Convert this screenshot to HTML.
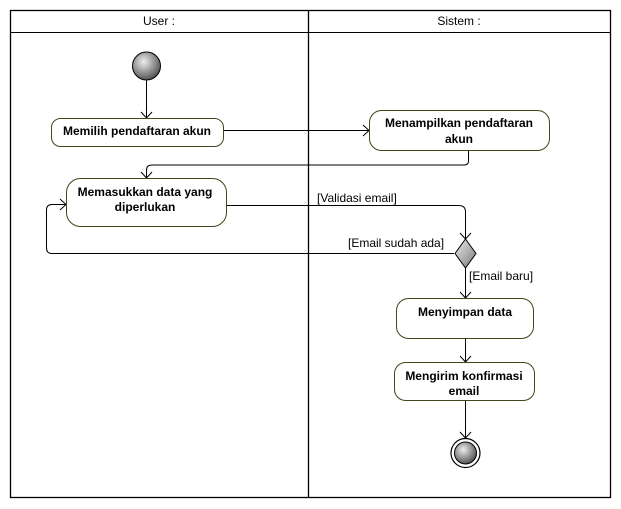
<!DOCTYPE html>
<html><head><meta charset="utf-8"><style>
html,body{margin:0;padding:0;background:#fff;width:621px;height:509px;overflow:hidden}
svg{display:block}
text{font-family:"Liberation Sans",Arial,sans-serif;font-size:12px;fill:#000}
.b{font-weight:bold}
</style></head><body>
<svg width="621" height="509" viewBox="0 0 621 509" xmlns="http://www.w3.org/2000/svg">
<defs>
<radialGradient id="g" cx="40%" cy="35%" r="65%"><stop offset="0" stop-color="#eee"/><stop offset="1" stop-color="#555"/></radialGradient>
<linearGradient id="d" x1="0" y1="0" x2="1" y2="1"><stop offset="0" stop-color="#eee"/><stop offset="1" stop-color="#777"/></linearGradient>
</defs>
<rect x="10.5" y="10.5" width="600" height="487" fill="none" stroke="#000" stroke-width="1.3"/>
<line x1="10.5" y1="32.5" x2="610.5" y2="32.5" stroke="#000"/>
<line x1="308.5" y1="10.5" x2="308.5" y2="497.5" stroke="#000" stroke-width="1.3"/>
<text x="159" y="25" text-anchor="middle">User :</text>
<text x="459" y="25" text-anchor="middle">Sistem :</text>

<g fill="none" stroke="#000" stroke-width="1">
<line x1="146.5" y1="80" x2="146.5" y2="118"/>
<polyline points="141,112 146.5,118 152,112"/>
<line x1="223" y1="130.5" x2="369" y2="130.5"/>
<polyline points="363,125 369,130.5 363,136"/>
<path d="M468.5 150 V161 Q468.5 165 464 165 H152 Q146.5 165 146.5 170 V178"/>
<polyline points="141,172 146.5,178 152,172"/>
<path d="M226 205.5 H459 Q465.5 205.5 465.5 212 V239"/>
<polyline points="460,233 465.5,239 471,233"/>
<path d="M454 253.5 H52 Q46.5 253.5 46.5 248 V210 Q46.5 204.5 52 204.5 H66"/>
<polyline points="60,199 66,204.5 60,210"/>
<line x1="465.5" y1="267" x2="465.5" y2="298"/>
<polyline points="460,292 465.5,298 471,292"/>
<line x1="465.5" y1="338" x2="465.5" y2="362"/>
<polyline points="460,356 465.5,362 471,356"/>
<line x1="465.5" y1="400" x2="465.5" y2="438"/>
<polyline points="460,432 465.5,438 471,432"/>
</g>

<circle cx="146.5" cy="66" r="14" fill="url(#g)" stroke="#000"/>
<g fill="#fff" stroke="#3a4a1a" stroke-width="1">
<rect x="51.5" y="118.5" width="172" height="28" rx="9"/>
<rect x="369.5" y="110.5" width="180" height="40" rx="12"/>
<rect x="66.5" y="178.5" width="160" height="48" rx="14"/>
<rect x="396.5" y="298.5" width="137" height="40" rx="12"/>
<rect x="394.5" y="362.5" width="140" height="38" rx="11"/>
</g>
<polygon points="465.5,239 476,253.5 465.5,268 455,253.5" fill="url(#d)" stroke="#000"/>
<circle cx="465.5" cy="453" r="14.5" fill="#fff" stroke="#000" stroke-width="1.2"/>
<circle cx="465.5" cy="453" r="11" fill="url(#g)" stroke="#000"/>

<text class="b" x="137" y="135" text-anchor="middle">Memilih pendaftaran akun</text>
<text class="b" x="459" y="127" text-anchor="middle">Menampilkan pendaftaran</text>
<text class="b" x="459" y="143" text-anchor="middle">akun</text>
<text class="b" x="145" y="196" text-anchor="middle">Memasukkan data yang</text>
<text class="b" x="145" y="211" text-anchor="middle">diperlukan</text>
<text class="b" x="465" y="316" text-anchor="middle">Menyimpan data</text>
<text class="b" x="464" y="380" text-anchor="middle">Mengirim konfirmasi</text>
<text class="b" x="464" y="395" text-anchor="middle">email</text>
<text x="317" y="202">[Validasi email]</text>
<text x="348" y="247">[Email sudah ada]</text>
<text x="469" y="280">[Email baru]</text>
</svg>
</body></html>
